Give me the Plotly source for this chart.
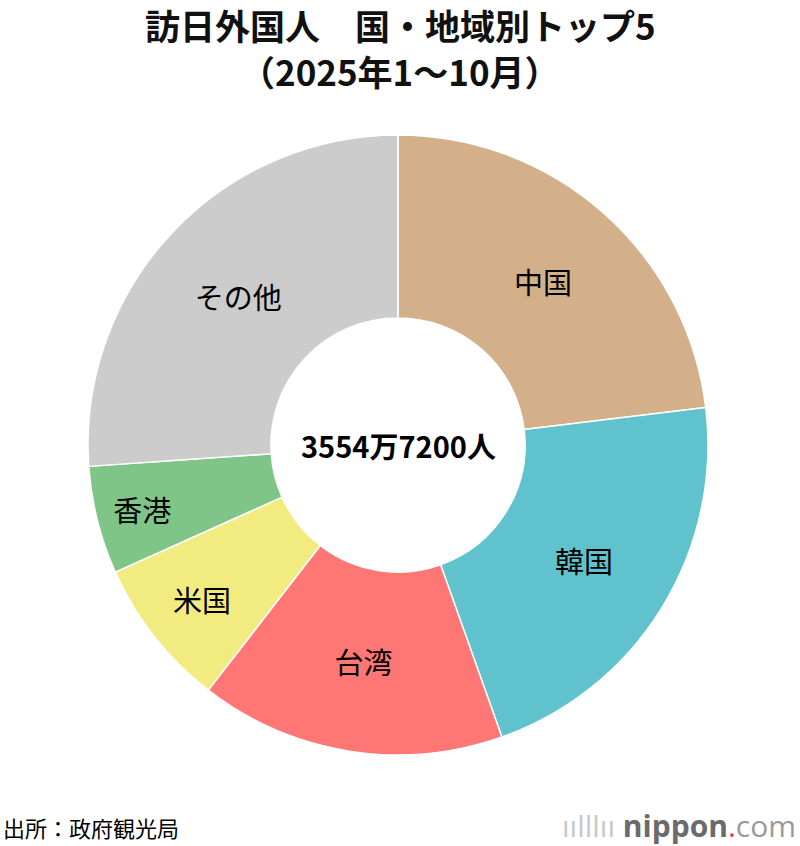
import plotly.graph_objects as go

labels = ["中国", "韓国", "台湾", "米国", "香港", "その他"]
values = [820.0, 764.0, 566.0, 277.0, 200.0, 927.72]  # 万人
colors = ["#D3AF8A", "#5FC2CD", "#FF7774", "#F2EC80", "#80C588", "#CCCCCC"]
total_text = "3554万7200人"
title_line1 = "訪日外国人　国・地域別トップ5"
title_line2 = "（2025年1～10月）"
source_text = "出所：政府観光局"

FONT = "Noto Sans CJK JP"
W, H = 800, 846

fig = go.Figure(go.Pie(
    labels=labels,
    values=values,
    marker=dict(colors=colors, line=dict(color="white", width=1.5)),
    hole=0.41,
    sort=False,
    direction="clockwise",
    rotation=0,
    textinfo="label",
    textposition="inside",
    insidetextorientation="horizontal",
    textfont=dict(family=FONT, size=29, color="black"),
    showlegend=False,
    hoverinfo="label+value+percent",
    domain=dict(x=[88 / W, 708 / W], y=[(H - 755) / H, (H - 135) / H]),
))

fig.update_layout(
    width=W, height=H,
    margin=dict(l=0, r=0, t=0, b=0),
    paper_bgcolor="white",
    plot_bgcolor="white",
    font=dict(family=FONT, color="black"),
    uniformtext=dict(minsize=29, mode="show"),
)

fig.add_annotation(text="<b>" + title_line1 + "</b>", x=0.5, y=1 - 25 / H, xref="paper", yref="paper",
                   xanchor="center", yanchor="middle", showarrow=False,
                   font=dict(family=FONT, size=35, color="#111"))
fig.add_annotation(text="<b>" + title_line2 + "</b>", x=0.5, y=1 - 71 / H, xref="paper", yref="paper",
                   xanchor="center", yanchor="middle", showarrow=False,
                   font=dict(family=FONT, size=35, color="#111"))
fig.add_annotation(text="<b>" + total_text + "</b>", x=398 / W, y=1 - 445 / H, xref="paper", yref="paper",
                   xanchor="center", yanchor="middle", showarrow=False,
                   font=dict(family=FONT, size=29, color="black"))
fig.add_annotation(text=source_text, x=1 / W, y=1 - 827 / H, xref="paper", yref="paper",
                   xanchor="left", yanchor="middle", showarrow=False,
                   font=dict(family=FONT, size=22, color="black"))
fig.add_annotation(
    text="<span style='color:#c8c8c8'>ıılllıı </span><b>nippon</b><span style='color:#e8383d'>.</span><span style='color:#9a9a9a'>com</span>",
    x=798 / W, y=1 - 825 / H, xref="paper", yref="paper", xanchor="right", yanchor="middle",
    showarrow=False,
    font=dict(family="Open Sans", size=30, color="#6b6b6b"))

fig.write_html("out.html", config={"displayModeBar": False},
               post_script="document.body.style.margin='0';")
